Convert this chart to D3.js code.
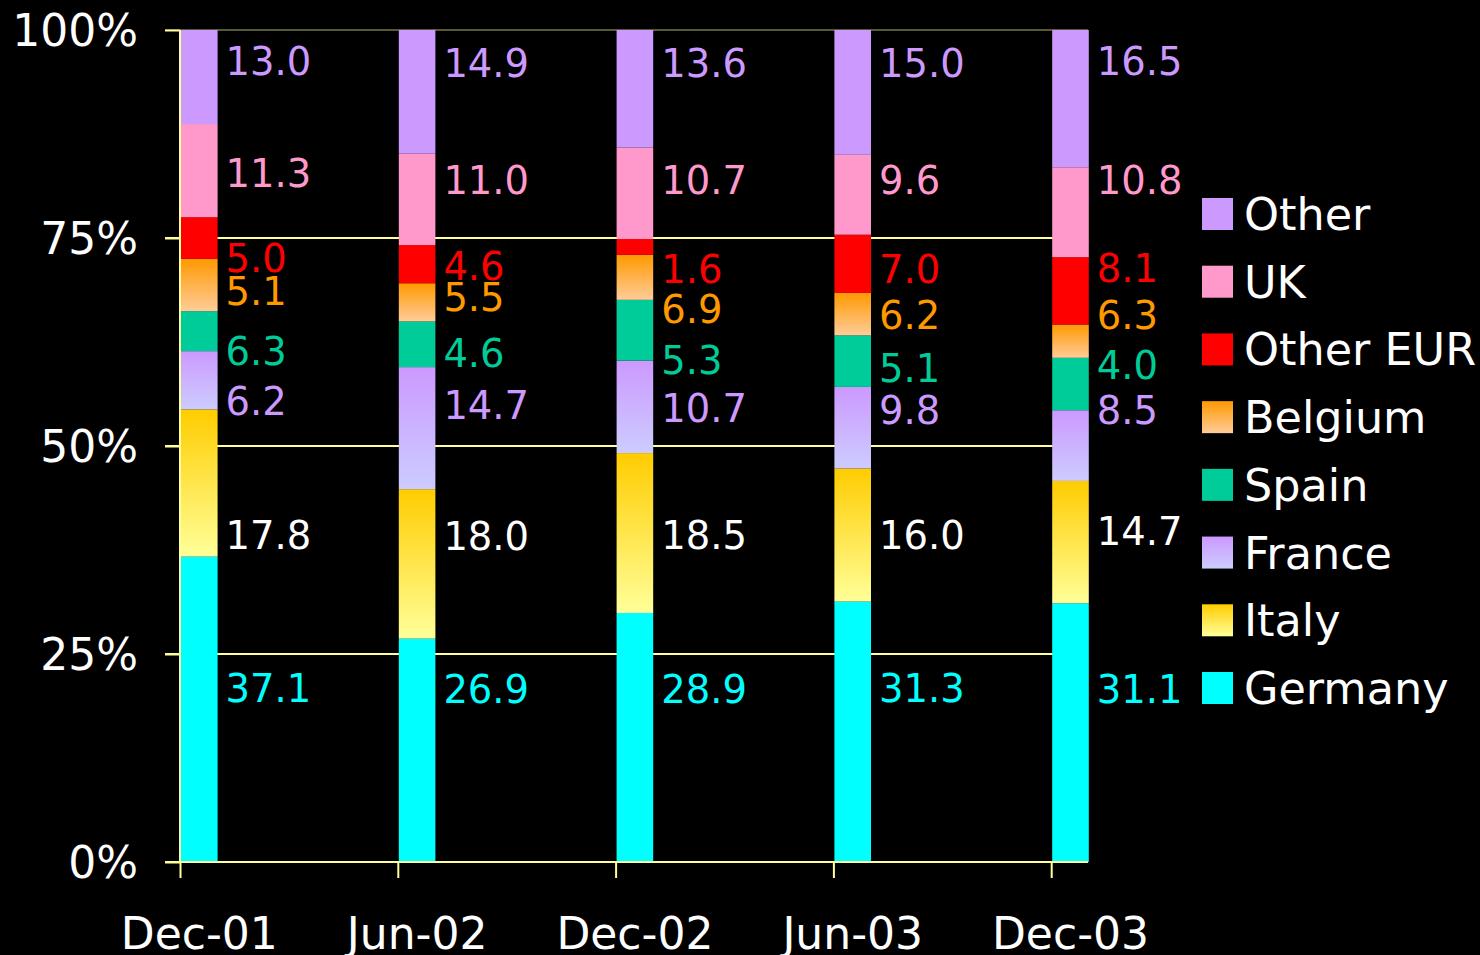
<!DOCTYPE html>
<html>
<head>
<meta charset="utf-8">
<script src="https://cdn.jsdelivr.net/npm/d3@7"></script>
<style>
  html, body { margin: 0; padding: 0; background: #000; }
  svg { display: block; }
  text { font-family: "DejaVu Sans", Verdana, sans-serif; }
</style>
</head>
<body>
<svg id="chart" width="1480" height="955"></svg>
<script>
// ---------- data (bar heights as drawn, % of each column) ----------
const categories = ["Dec-01", "Jun-02", "Dec-02", "Jun-03", "Dec-03"];
const seriesNames = ["Germany", "Italy", "France", "Spain", "Belgium", "Other EUR", "UK", "Other"];
const germany  = [36.7, 26.9, 29.9, 31.3, 31.1];
const italy    = [17.7, 18.0, 19.2, 16.0, 14.7];
const france   = [7.0, 14.7, 11.1, 9.8, 8.5];
const spain    = [4.8, 5.5, 7.3, 6.2, 6.3];
const belgium  = [6.3, 4.6, 5.4, 5.1, 4.0];
const otherEur = [5.0, 4.6, 1.9, 7.0, 8.1];
const uk       = [11.2, 11.0, 11.0, 9.6, 10.8];
const other    = [11.3, 14.9, 14.1, 15.0, 16.5];
const yTickValues = [0, 25, 50, 75, 100];
const yTickLabels = ["0%", "25%", "50%", "75%", "100%"];

// value labels as printed next to the bars
const germanyText  = ["37.1", "26.9", "28.9", "31.3", "31.1"];
const italyText    = ["17.8", "18.0", "18.5", "16.0", "14.7"];
const franceText   = ["6.2", "14.7", "10.7", "9.8", "8.5"];
const spainText    = ["6.3", "4.6", "5.3", "5.1", "4.0"];
const belgiumText  = ["5.1", "5.5", "6.9", "6.2", "6.3"];
const otherEurText = ["5.0", "4.6", "1.6", "7.0", "8.1"];
const ukText       = ["11.3", "11.0", "10.7", "9.6", "10.8"];
const otherText    = ["13.0", "14.9", "13.6", "15.0", "16.5"];
// where each value label sits (percent of the axis)
const germanyLabelAt  = [20.9, 20.8, 20.8, 20.9, 20.8];
const italyLabelAt    = [39.3, 39.2, 39.3, 39.3, 39.8];
const franceLabelAt   = [55.4, 54.9, 54.6, 54.3, 54.3];
const spainLabelAt    = [61.4, 61.2, 60.3, 59.3, 59.7];
const belgiumLabelAt  = [68.6, 67.9, 66.5, 65.7, 65.7];
const otherEurLabelAt = [72.6, 71.6, 71.2, 71.2, 71.4];
const ukLabelAt       = [82.8, 82.0, 82.0, 82.0, 82.0];
const otherLabelAt    = [96.2, 96.0, 96.0, 96.0, 96.3];

const seriesValues = [germany, italy, france, spain, belgium, otherEur, uk, other];
const seriesText = [germanyText, italyText, franceText, spainText, belgiumText, otherEurText, ukText, otherText];
const seriesLabelAt = [germanyLabelAt, italyLabelAt, franceLabelAt, spainLabelAt,
                       belgiumLabelAt, otherEurLabelAt, ukLabelAt, otherLabelAt];

// ---------- styles ----------
const fills = {
  "Germany": "#00ffff", "Italy": "url(#gItaly)", "France": "url(#gFrance)", "Spain": "#00cc99",
  "Belgium": "url(#gBelgium)", "Other EUR": "#ff0000", "UK": "#ff99cc", "Other": "#cc99ff"
};
const labelColors = {
  "Germany": "#00ffff", "Italy": "#ffffff", "France": "#cc99ff", "Spain": "#00cc99",
  "Belgium": "#ff9900", "Other EUR": "#ff0000", "UK": "#ff99cc", "Other": "#cc99ff"
};
const gridColor = "#ffff99";

const svg = d3.select("#chart");
const defs = svg.append("defs");
function vGrad(id, top, bottom) {
  const g = defs.append("linearGradient").attr("id", id)
    .attr("x1", 0).attr("y1", 0).attr("x2", 0).attr("y2", 1);
  g.append("stop").attr("offset", "0%").attr("stop-color", top);
  g.append("stop").attr("offset", "100%").attr("stop-color", bottom);
}
vGrad("gItaly", "#ffcc00", "#ffff99");
vGrad("gFrance", "#cc99ff", "#ccccff");
vGrad("gBelgium", "#ff9900", "#ffcc99");

// ---------- table & stack ----------
const table = categories.map((c, i) => {
  const row = { category: c };
  seriesNames.forEach((s, k) => { row[s] = seriesValues[k][i]; });
  return row;
});
const stacked = d3.stack().keys(seriesNames).offset(d3.stackOffsetExpand)(table);

// ---------- scales ----------
const plotLeft = 181, step = 217.8, plotRight = 1088;
const x = d3.scaleBand().domain(categories).range([plotLeft, plotLeft + step * categories.length]).padding(0);
const barW = x.bandwidth() * 0.168;
const y = d3.scaleLinear().domain([0, 100]).range([862, 30]);

// ---------- gridlines ----------
svg.append("g").selectAll("line").data(yTickValues.filter(v => v > 0)).join("line")
  .attr("x1", 165).attr("x2", plotRight)
  .attr("y1", d => y(d)).attr("y2", d => y(d))
  .attr("stroke", gridColor).attr("stroke-width", 2)
  .attr("stroke-opacity", d => d === 100 ? 0.35 : 1);

// ---------- bars ----------
const layers = svg.append("g").selectAll("g").data(stacked).join("g")
  .attr("fill", d => fills[d.key]);
layers.selectAll("rect").data(d => d).join("rect")
  .attr("x", d => x(d.data.category))
  .attr("width", barW)
  .attr("y", d => y(d[1] * 100))
  .attr("height", d => y(d[0] * 100) - y(d[1] * 100));

// ---------- axes ----------
const yAxis = svg.append("g").attr("transform", `translate(${plotLeft - 1},0)`)
  .call(d3.axisLeft(y).tickValues(yTickValues).tickSize(15)
        .tickFormat((d, i) => yTickLabels[i]).tickPadding(27));
yAxis.select(".domain").attr("stroke", gridColor).attr("stroke-width", 2)
  .attr("d", `M0,${y(100)}V${y(0)}`);
yAxis.selectAll(".tick line").attr("stroke", gridColor).attr("stroke-width", 2);
yAxis.selectAll(".tick text").attr("fill", "#fff").attr("font-size", 44)
  .attr("font-family", "DejaVu Sans, Verdana, sans-serif").attr("dy", "0.36em");

// x axis line
svg.append("line").attr("x1", 165).attr("x2", plotRight)
  .attr("y1", y(0)).attr("y2", y(0)).attr("stroke", gridColor).attr("stroke-width", 2);
// x ticks at category starts
svg.append("g").selectAll("line").data(categories).join("line")
  .attr("x1", d => x(d) - 0.5).attr("x2", d => x(d) - 0.5)
  .attr("y1", y(0)).attr("y2", y(0) + 16)
  .attr("stroke", gridColor).attr("stroke-width", 2);
svg.append("g").selectAll("text").data(categories).join("text")
  .attr("x", d => x(d) + barW / 2)
  .attr("y", 949)
  .attr("text-anchor", "middle")
  .attr("fill", "#fff").attr("font-size", 44)
  .text(d => d);

// ---------- value labels ----------
const labelData = [];
seriesNames.forEach((s, k) => {
  categories.forEach((c, i) => {
    labelData.push({ series: s, category: c, text: seriesText[k][i], at: seriesLabelAt[k][i] });
  });
});
svg.append("g").selectAll("text").data(labelData).join("text")
  .attr("x", d => x(d.category) + barW + 8)
  .attr("y", d => y(d.at))
  .attr("dy", "0.36em")
  .attr("fill", d => labelColors[d.series])
  .attr("font-size", 38.5)
  .text(d => d.text);

// ---------- legend ----------
const legendOrder = seriesNames.slice().reverse();
const ly = d3.scalePoint().domain(legendOrder).range([214, 688]);
const legend = svg.append("g").selectAll("g").data(legendOrder).join("g")
  .attr("transform", d => `translate(1202,${ly(d)})`);
legend.append("rect").attr("x", 0).attr("y", -16).attr("width", 31).attr("height", 32)
  .attr("fill", d => fills[d]);
legend.append("text").attr("x", 42).attr("y", 0).attr("dy", "0.36em")
  .attr("fill", "#fff").attr("font-size", 44.5).text(d => d);
</script>
</body>
</html>
